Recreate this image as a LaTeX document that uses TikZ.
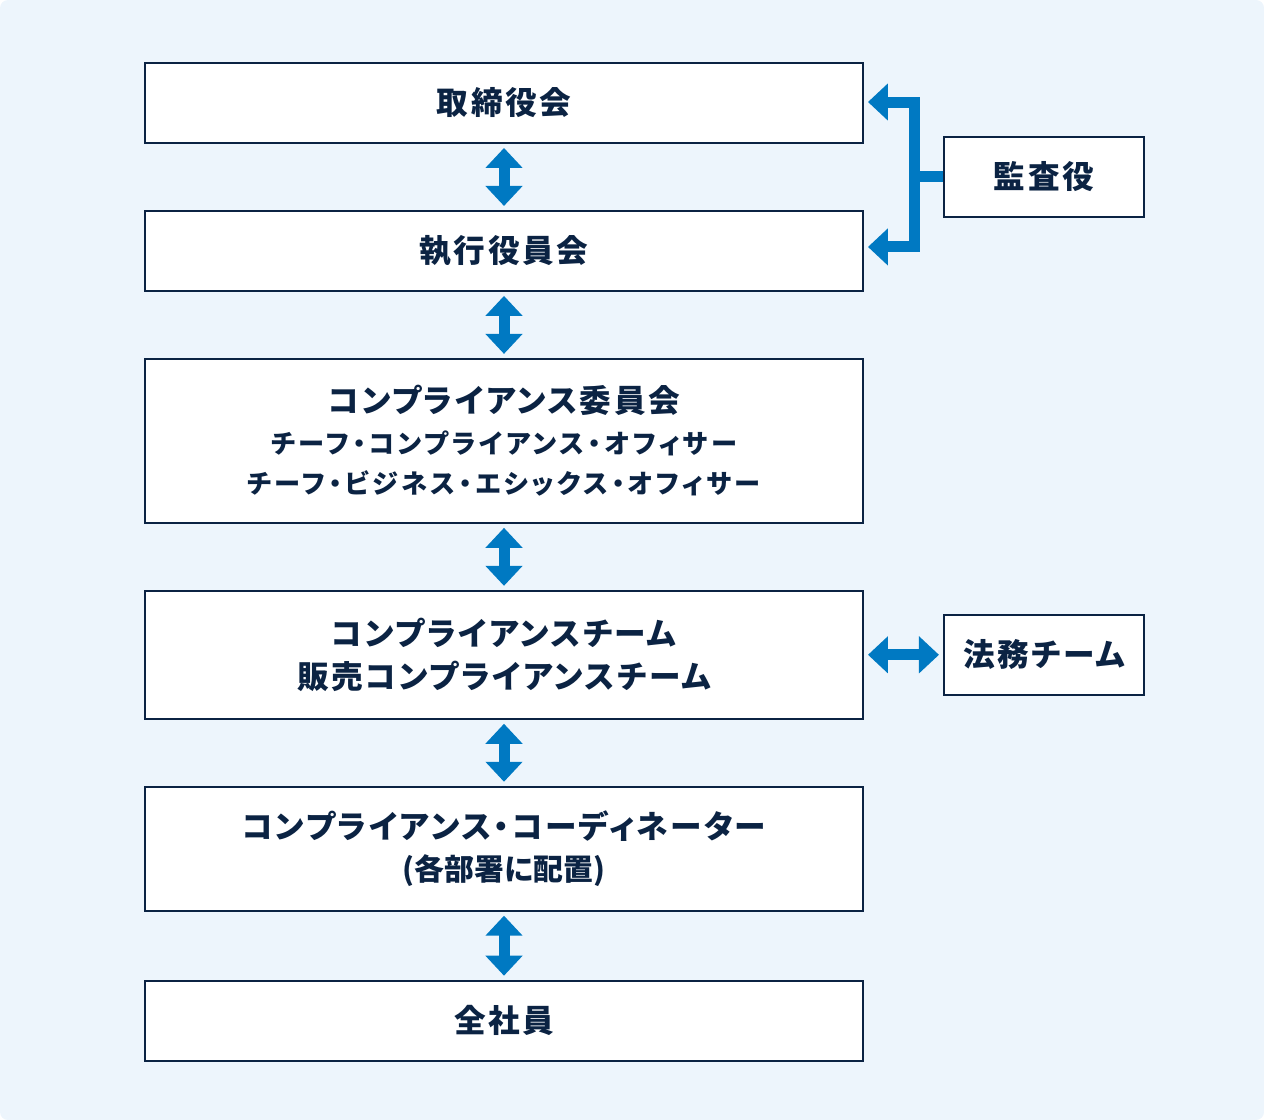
\documentclass[tikz,border=0pt]{standalone}
\usepackage{fontspec}
\usepackage{tikz}
\usetikzlibrary{arrows.meta,positioning,calc}

\newfontfamily\jpfont{Noto Sans CJK JP}[LetterSpace=8,RawFeature={+palt}]
\definecolor{navy}{HTML}{0B2343}
\definecolor{arrowblue}{HTML}{0079C2}
\definecolor{paleback}{HTML}{EDF5FC}

\begin{document}
\begin{tikzpicture}[
  box/.style={draw=navy, line width=1.1pt, fill=white, text=navy, minimum width=14.36cm, minimum height=1.6cm, align=center, inner sep=0pt,
    font={\jpfont\bfseries\fontsize{18}{23.2}\selectfont}},
  sidebox/.style={box, minimum width=4cm},
  twoway/.style={arrowblue, line width=0.22cm, {Triangle[width=0.72cm,length=0.4cm]}-{Triangle[width=0.72cm,length=0.4cm]}, shorten >=0.08cm, shorten <=0.08cm},
  oneway/.style={arrowblue, line width=0.22cm, line join=miter, -{Triangle[width=0.72cm,length=0.4cm]}, shorten >=0.08cm}
]

% background
\fill[paleback, rounded corners=0.16cm] (0,0) rectangle (25.28,-22.4);

\node[box] (board) at (10.08,-2.06) {取締役会};
\node[box, below=1.32cm of board] (exec) {執行役員会};
\node[box, below=1.32cm of exec, minimum height=3.28cm] (comp) {コンプライアンス委員会\\
{\addfontfeature{LetterSpace=13}\fontsize{14.9}{22.7}\selectfont チーフ・コンプライアンス・オフィサー}\\
{\addfontfeature{LetterSpace=13}\fontsize{14.9}{22.7}\selectfont チーフ・ビジネス・エシックス・オフィサー}};
\node[box, below=1.32cm of comp, minimum height=2.56cm, font={\jpfont\bfseries\fontsize{18}{24.9}\selectfont}] (team) {コンプライアンスチーム\\販売コンプライアンスチーム};
\node[box, below=1.32cm of team, minimum height=2.48cm, font={\jpfont\bfseries\fontsize{18}{23.8}\selectfont}] (coord) {コンプライアンス・コーディネーター\\
{\addfontfeature{LetterSpace=0}\fontsize{17}{23.8}\selectfont (各部署に配置)}};
\node[box, below=1.36cm of coord] (staff) {全社員};

\coordinate (mid) at ($(board.east)!0.5!(exec.east)$);
\node[sidebox, right=1.58cm of mid] (audit) {監査役};
\node[sidebox, right=1.58cm of team] (legal) {法務チーム};

\draw[twoway] (board.south) -- (exec.north);
\draw[twoway] (exec.south) -- (comp.north);
\draw[twoway] (comp.south) -- (team.north);
\draw[twoway] (team.south) -- (coord.north);
\draw[twoway] (coord.south) -- (staff.north);
\draw[twoway] (team.east) -- (legal.west);

\draw[oneway] (audit.west) -- ++(-0.56cm,0) |- ([yshift=0.02cm]board.east);
\draw[oneway] (audit.west) -- ++(-0.56cm,0) |- ([yshift=0.08cm]exec.east);

\end{tikzpicture}
\end{document}
